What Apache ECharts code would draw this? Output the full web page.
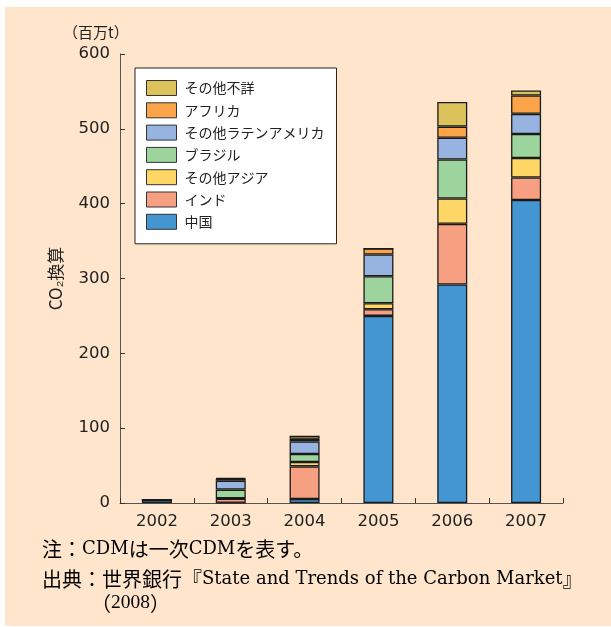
<!DOCTYPE html>
<html>
<head>
<meta charset="utf-8">
<script src="https://cdn.jsdelivr.net/npm/echarts@6/dist/echarts.min.js"></script>
<style>
  html, body { margin: 0; padding: 0; background: #ffffff; }
  #chart { width: 611px; height: 627px; }
</style>
</head>
<body>
<div id="chart"></div>
<script>
// CDM credits by host region, million t CO2 equivalent
const years = ['2002', '2003', '2004', '2005', '2006', '2007'];
const china       = [4, 0.3, 5.3, 250, 292, 405];
const india       = [0.4, 5.5, 43.6, 9, 81, 30];
const otherAsia   = [0, 0.5, 5.9, 8, 34, 26];
const brazil      = [0, 11.6, 10.7, 36, 52, 32];
const otherLatAm  = [0, 12, 16.8, 29, 29, 27];
const africa      = [0, 2.5, 3.6, 8, 15, 24.5];
const unknown     = [0, 1, 4, 0, 33, 6.7];

const seriesNames = ['中国', 'インド', 'その他アジア', 'ブラジル', 'その他ラテンアメリカ', 'アフリカ', 'その他不詳'];
const seriesData  = [china, india, otherAsia, brazil, otherLatAm, africa, unknown];
const seriesColors = ['#4396d2', '#f6a081', '#fed766', '#9dd49e', '#97b4e0', '#fba44a', '#dcc25a'];

const yTicks = { min: 0, max: 600, interval: 100 };

const chart = echarts.init(document.getElementById('chart'), null, { renderer: 'canvas' });

const sansFont = 'DejaVu Sans, Noto Sans CJK JP, sans-serif';
const jpFont = 'Noto Sans CJK JP, sans-serif';

// mixed Japanese / Latin footnote styles
const noteRich = {
  j: { fontFamily: jpFont, fontSize: 20, color: '#222' },
  l: { fontFamily: 'DejaVu Serif, serif', fontSize: 18, color: '#222' },
  d: { fontFamily: 'Liberation Serif, serif', fontSize: 19.5, color: '#222' }
};

const option = {
  backgroundColor: 'transparent',
  animation: false,
  graphic: [
    {
      type: 'rect', z: -10, silent: true,
      shape: { x: 5, y: 7, width: 606, height: 619 },
      style: { fill: '#fee5cc' }
    },
    {
      type: 'text', left: 63, top: 25,
      style: { text: '（百万t）', font: '15px ' + jpFont, fill: '#222' }
    },
    {
      type: 'text', x: 42, y: 549.5,
      style: {
        text: '{j|注：}{l|CDM}{j|は一次}{l|CDM}{j|を表す。}',
        rich: noteRich, verticalAlign: 'middle'
      }
    },
    {
      type: 'text', x: 42, y: 579,
      style: {
        text: '{j|出典：世界銀行『}{l|State and Trends of the Carbon Market}{j|』}',
        rich: noteRich, verticalAlign: 'middle'
      }
    },
    {
      type: 'text', x: 91, y: 603,
      style: {
        text: '{j|（}{d|2008}{j|）}',
        rich: noteRich, verticalAlign: 'middle'
      }
    }
  ],
  grid: { left: 120, right: 48, top: 54, bottom: 124, containLabel: false },
  legend: {
    orient: 'vertical',
    left: 135, top: 68,
    data: seriesNames.slice().reverse(),
    backgroundColor: '#ffffff',
    borderColor: '#222',
    borderWidth: 1,
    borderRadius: 0,
    padding: [12, 12, 14, 11],
    itemWidth: 30,
    itemHeight: 15,
    itemGap: 6.3,
    icon: 'rect',
    itemStyle: { borderColor: '#333', borderWidth: 1 },
    textStyle: { fontFamily: jpFont, fontSize: 14, color: '#222', padding: [0, 0, 0, 3] }
  },
  xAxis: {
    type: 'category',
    data: years,
    axisLine: { lineStyle: { color: '#555', width: 1 } },
    axisTick: { show: true, inside: true, length: 5, alignWithLabel: false, lineStyle: { color: '#333' } },
    axisLabel: { fontFamily: sansFont, fontSize: 16.5, color: '#222', margin: 10 }
  },
  yAxis: {
    type: 'value',
    min: yTicks.min, max: yTicks.max, interval: yTicks.interval,
    name: 'CO₂換算',
    nameLocation: 'middle',
    nameRotate: 90,
    nameGap: 56,
    nameTextStyle: { fontFamily: jpFont, fontSize: 17, color: '#222' },
    splitLine: { show: false },
    axisLine: { show: true, lineStyle: { color: '#555', width: 1 } },
    axisTick: { show: true, inside: true, length: 5, lineStyle: { color: '#333' } },
    axisLabel: { fontFamily: sansFont, fontSize: 16.5, color: '#222', margin: 10 }
  },
  series: seriesNames.map((name, i) => ({
    name: name,
    type: 'bar',
    stack: 'total',
    barWidth: 30,
    data: seriesData[i],
    itemStyle: { color: seriesColors[i], borderColor: '#1a1a1a', borderWidth: 1.3 }
  }))
};

chart.setOption(option);
</script>
</body>
</html>
